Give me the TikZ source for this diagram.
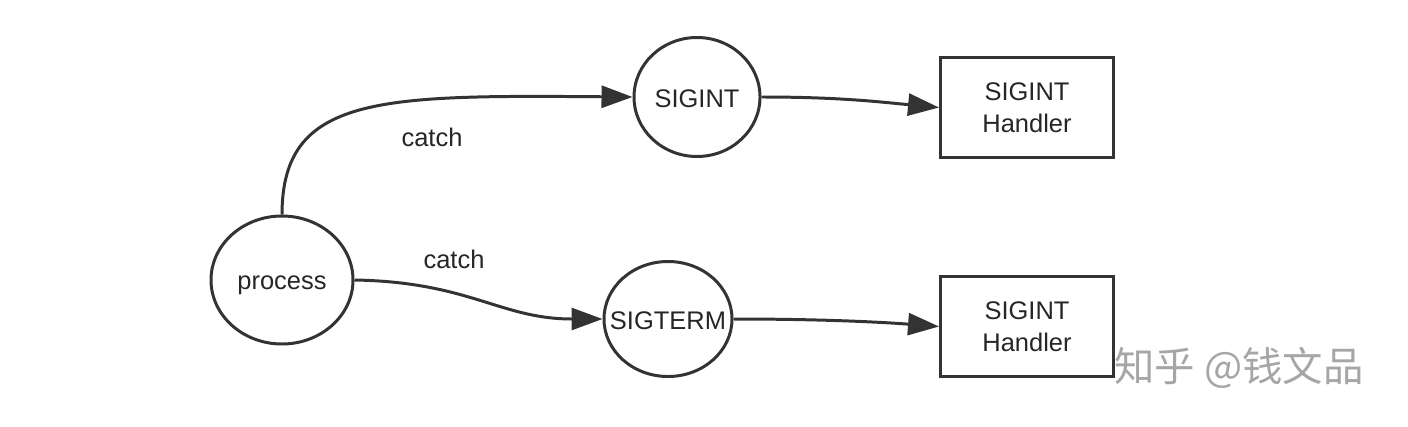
\documentclass[tikz,border=0pt]{standalone}
\usepackage{fontspec}
\setmainfont{Liberation Sans}
\newfontfamily\cjk{Noto Sans CJK SC}
\usetikzlibrary{arrows.meta,shapes.geometric}
\begin{document}
\begin{tikzpicture}[x=0.02cm,y=-0.02cm,
  every node/.style={font=\fontsize{14.5}{18}\selectfont, text=black!85},
  oval/.style={draw=black!80, line width=1.7pt, shape=ellipse, inner sep=0pt},
  handler/.style={draw=black!80, line width=1.7pt, minimum width=173*0.02cm, minimum height=100*0.02cm, align=center, inner sep=0pt},
  conn/.style={draw=black!80, line width=1.7pt, -{Triangle[length=0.62cm,width=0.44cm]}},
  lbl/.style={font=\fontsize{14.5}{18}\selectfont}
]
\useasboundingbox (0,0) rectangle (1408,426);
\node[oval, minimum width=142*0.02cm, minimum height=128*0.02cm, label={[text=black!85, yshift=-3pt]center:process}] (proc) at (282,280) {};
\node[oval, minimum width=126*0.02cm, minimum height=119*0.02cm, label={[text=black!85, yshift=-0.7pt]center:SIGINT}] (sigint) at (697,97) {};
\node[oval, minimum width=128*0.02cm, minimum height=115*0.02cm, label={[text=black!85, yshift=-0.7pt]center:SIGTERM}] (sigterm) at (668,319) {};
\node[handler, text depth=0pt] (h1) at (1027,107.5) {SIGINT\\Handler};
\node[handler, text depth=0pt] (h2) at (1027,326.5) {SIGINT\\Handler};
\draw[conn] (proc.north) .. controls (282,95) and (380,95) .. (sigint.west);
\draw[conn] (proc.east) .. controls (470,282) and (500,319) .. (sigterm.west);
\draw[conn] (sigint.east) .. controls (840,97) and (880,102) .. (h1.west);
\draw[conn] (sigterm.east) .. controls (820,319) and (880,322) .. (h2.west);
\node[lbl] (c1) at (432,137) {catch};
\node[lbl] (c2) at (454,259) {catch};
\node[font=\cjk\fontsize{23}{26}\selectfont, text=black!35, anchor=west] (wm) at (1108,368) {知乎 @钱文品};
\end{tikzpicture}
\end{document}
